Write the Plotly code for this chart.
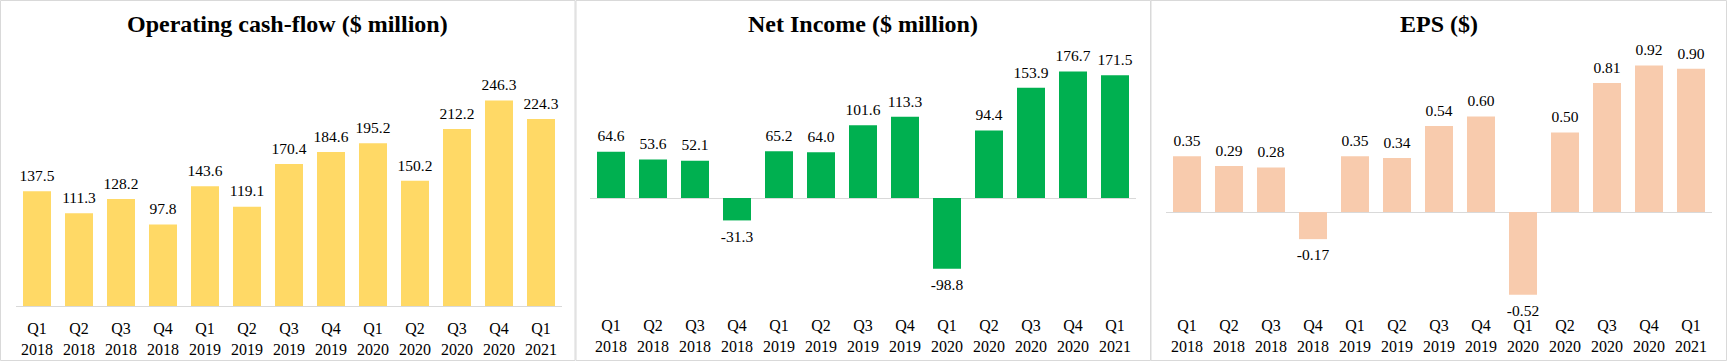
import plotly.graph_objects as go

quarters = ["Q1<br>2018", "Q2<br>2018", "Q3<br>2018", "Q4<br>2018",
            "Q1<br>2019", "Q2<br>2019", "Q3<br>2019", "Q4<br>2019",
            "Q1<br>2020", "Q2<br>2020", "Q3<br>2020", "Q4<br>2020",
            "Q1<br>2021"]
operating_cash_flow = [137.5, 111.3, 128.2, 97.8, 143.6, 119.1, 170.4, 184.6,
                       195.2, 150.2, 212.2, 246.3, 224.3]
net_income = [64.6, 53.6, 52.1, -31.3, 65.2, 64.0, 101.6, 113.3,
              -98.8, 94.4, 153.9, 176.7, 171.5]
eps = [0.35, 0.29, 0.28, -0.17, 0.35, 0.34, 0.54, 0.60,
       -0.52, 0.50, 0.81, 0.92, 0.90]

titles = ["Operating cash-flow ($ million)", "Net Income ($ million)", "EPS ($)"]
colors = ["#FFD966", "#00B050", "#F8CBAD"]
decimals = [1, 1, 2]

W, H = 1727, 361
FONT = "Liberation Serif, Times New Roman, serif"
GRAY = "#D9D9D9"

# panel boxes (pixels) and plot-area x spans (pixels)
panels = [(0.5, 575.0), (576.0, 1150.5), (1151.0, 1726.5)]
plot_x = [(16, 562), (590, 1136), (1166, 1712)]
plot_top, plot_bottom = 60, 306
y_ranges = [[0, 295], [-150.8, 192.7], [-0.59, 0.955]]
x_range = [-0.5, len(quarters) - 0.5]

def px(x):
    return x / W

def py(y):
    return (H - y) / H

fig = go.Figure()
series = [operating_cash_flow, net_income, eps]
for i, vals in enumerate(series):
    xa = "x" if i == 0 else f"x{i+1}"
    ya = "y" if i == 0 else f"y{i+1}"
    fig.add_trace(go.Bar(
        x=quarters, y=vals, xaxis=xa, yaxis=ya,
        marker=dict(color=colors[i], line=dict(width=0)),
        showlegend=False, hoverinfo="skip",
    ))
    # data labels (invisible markers give the label offset from the bar end)
    fig.add_trace(go.Scatter(
        x=quarters, y=vals, xaxis=xa, yaxis=ya,
        mode="markers+text",
        text=[f"{v:.{decimals[i]}f}" for v in vals],
        textposition=["top center" if v >= 0 else "bottom center" for v in vals],
        marker=dict(size=[8.6 if v >= 0 else 13.6 for v in vals],
                    color="rgba(0,0,0,0)", line=dict(width=0)),
        textfont=dict(family=FONT, size=15.5, color="black"),
        cliponaxis=False, showlegend=False, hoverinfo="skip",
    ))

layout = dict(
    width=W, height=H,
    margin=dict(l=0, r=0, t=0, b=0),
    paper_bgcolor="white", plot_bgcolor="white",
    bargap=1/3,
    font=dict(family=FONT, color="black"),
    shapes=[], annotations=[],
)
for i in range(3):
    sx = "" if i == 0 else str(i + 1)
    layout[f"xaxis{sx}"] = dict(
        domain=[px(plot_x[i][0]), px(plot_x[i][1])],
        anchor=f"y{sx}", range=x_range, autorange=False,
        showgrid=False, zeroline=False,
        showline=(i == 0), linecolor=GRAY, linewidth=1,
        ticks="", ticklabelstandoff=8,
        tickfont=dict(family=FONT, size=16, color="black"),
        fixedrange=True,
    )
    layout[f"yaxis{sx}"] = dict(
        domain=[py(plot_bottom), py(plot_top)],
        anchor=f"x{sx}", range=y_ranges[i], autorange=False,
        showgrid=False, showticklabels=False, ticks="",
        zeroline=(i != 0), zerolinecolor=GRAY, zerolinewidth=1,
        fixedrange=True,
    )
    x0, x1 = panels[i]
    layout["shapes"].append(dict(
        type="rect", xref="paper", yref="paper",
        x0=px(x0), x1=px(x1), y0=py(360.5), y1=py(0.5),
        line=dict(color=GRAY, width=1), fillcolor="rgba(0,0,0,0)",
        layer="below",
    ))
    layout["annotations"].append(dict(
        text=f"<b>{titles[i]}</b>", xref="paper", yref="paper",
        x=px((x0 + x1) / 2), y=py(24), xanchor="center", yanchor="middle",
        showarrow=False, font=dict(family=FONT, size=24, color="black"),
    ))

fig.update_layout(**layout)
fig.write_html(
    "out.html",
    config={"displayModeBar": False, "staticPlot": True},
    post_script="document.body.style.margin='0';document.body.style.overflow='hidden';",
)
